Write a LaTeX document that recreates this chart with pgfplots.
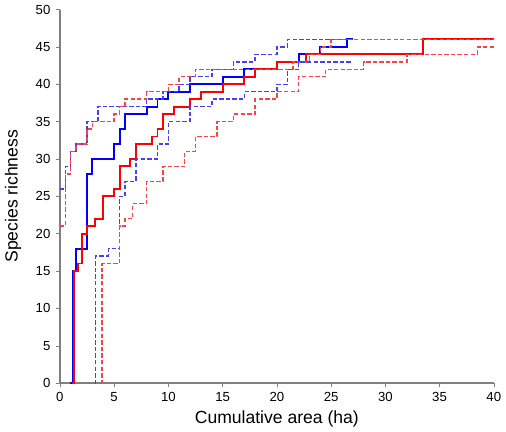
\documentclass[border=0pt]{standalone}
\usepackage{fontspec}
\setmainfont{Liberation Sans}
\usepackage{pgfplots}
\pgfplotsset{compat=1.18}
\begin{document}
\begin{tikzpicture}
\begin{axis}[width=12cm,height=10.55cm,
xmin=0,xmax=40,ymin=0,ymax=50,xtick distance=5,ytick distance=5,
axis x line*=bottom,axis y line*=left,axis line style={gray,line width=1pt},
tick style={gray},tick align=outside,major tick length=3pt,
ticklabel style={font=\small},/pgf/number format/assume math mode=true,
xlabel={Cumulative area (ha)},ylabel={Species richness},
label style={font=\large},
xlabel style={yshift=1pt},ylabel style={yshift=3pt}]
\addplot[const plot,blue,line width=1.3pt] coordinates {(0.9,0)(1.2,15)(1.5,18)(2.5,28)(3,30)(5,32)(5.5,34)(6,36)(8,37)(9,38)(10,39)(12,40)(15,41)(17,42)(20,43)(22,44)(24,45)(26.5,46)(27,46)};
\addplot[const plot,red,line width=1.3pt] coordinates {(1.1,0)(1.3,15)(1.7,16)(2,20)(2.5,21)(3.2,22)(4,25)(5,26)(5.5,29)(6.5,30)(7,32)(8.5,33)(9,34)(9.5,36)(10.5,37)(12,38)(13,39)(15,40)(17,41)(18,42)(20,43)(22.7,44)(33.5,46)(40,46)};
\addplot[const plot,blue!75,dashed,dash pattern=on 3pt off 1.5pt,line width=1pt] coordinates {(0,26)(0.5,29)(1,31)(1.5,32)(2.5,35)(3.5,37)(8,38)(9.5,39)(11,40)(12,41)(14,42)(16,43)(18,44)(20,45)(21,46)(27,46)};
\addplot[const plot,red!75,dash pattern=on 3pt off 1.5pt,line width=1pt] coordinates {(0,21)(0.5,28)(1,31)(1.5,32)(2.5,34)(3,35)(5,36)(5.5,37)(6,38)(8,39)(10,40)(11,41)(12.5,42)(21.5,43)(23,44)(24,45)(25,46)(40,46)};
\addplot[const plot,blue!75,dash pattern=on 3pt off 1.5pt,line width=1pt] coordinates {(3.2,0)(3.3,17)(4.5,18)(5.5,25)(6,27)(7,30)(9,32)(10,35)(12,37)(14,38)(17,39)(20,40)(21,42)(22,43)(27,43)};
\addplot[const plot,red!75,dash pattern=on 3pt off 1.5pt,line width=1pt] coordinates {(3.8,0)(3.9,16)(5.5,21)(6,22)(6.7,24)(8,27)(9.5,29)(11.5,31)(12.5,33)(14.5,35)(16,36)(18,38)(20,39)(22,41)(24.5,42)(28,43)(32,44)(38.5,45)(40,45)};
\end{axis}
\end{tikzpicture}
\end{document}
